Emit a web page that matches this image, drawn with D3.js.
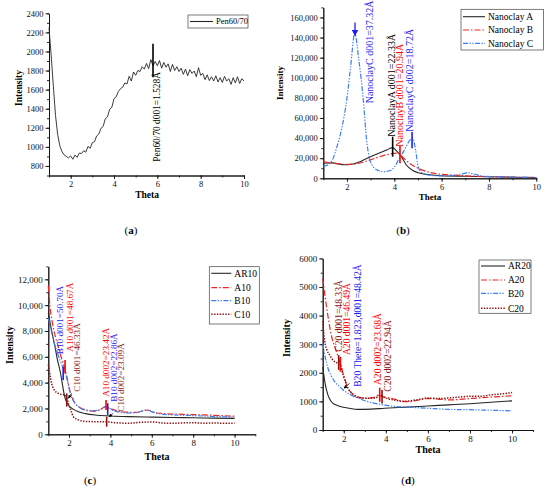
<!DOCTYPE html>
<html>
<head>
<meta charset="utf-8">
<script src="https://cdn.jsdelivr.net/npm/d3@7"></script>
<style>
  body { margin: 0; background: #fff; }
  svg text { font-family: "Liberation Serif", "Times New Roman", serif; }
</style>
</head>
<body>
<div class="container"></div>
<script>
// ---------- data ----------

// (a) Pen60/70, sampled every 0.1 theta
var penTheta = d3.range(1, 10.05, 0.1);
var pen6070 = [
  2250, 1960, 1640, 1330, 1130, 1010, 950, 915, 900, 885,
  905, 870, 915, 890, 935, 930, 960, 945, 1005, 985,
  1045, 1055, 1115, 1135, 1195, 1215, 1295, 1315, 1395, 1415,
  1505, 1525, 1580, 1610, 1625, 1670, 1660, 1740, 1690, 1785,
  1750, 1800, 1790, 1840, 1815, 1875, 1820, 1915, 1850, 1895,
  1850, 1905, 1825, 1885, 1835, 1870, 1790, 1865, 1800, 1840,
  1790, 1825, 1760, 1815, 1745, 1810, 1770, 1795, 1735, 1830,
  1750, 1770, 1705, 1755, 1695, 1735, 1690, 1745, 1680, 1725,
  1675, 1740, 1690, 1715, 1655, 1725, 1670, 1735, 1665, 1715,
  1690
];

// (b) nanoclays
var nanoATheta = [1, 1.2, 1.4, 1.6, 1.9, 2.2, 2.6, 3.0, 3.4, 3.7, 3.93, 4.1, 4.3, 4.5, 4.8, 5.1, 5.5, 6, 7, 8, 9, 10];
var nanoA = [15000, 15200, 15300, 14500, 13500, 14000, 17000, 21500, 25500, 28500, 30500, 27000, 21500, 13500, 7500, 5000, 3500, 2600, 2000, 1500, 1100, 800];
var nanoBTheta = [1, 1.3, 1.6, 2.0, 2.4, 2.8, 3.2, 3.6, 3.9, 4.15, 4.4, 4.7, 5.0, 5.4, 5.8, 6.3, 7, 8, 9, 10];
var nanoB = [16500, 15500, 14500, 13800, 14500, 17000, 20000, 23000, 24500, 25000, 20000, 14000, 10000, 6500, 4500, 3500, 2500, 1600, 1100, 800];
var nanoCTheta = [1, 1.2, 1.4, 1.57, 1.8, 1.99, 2.15, 2.33, 2.5, 2.69, 2.83, 2.95, 3.11, 3.3, 3.53, 3.8, 4.0, 4.17, 4.4, 4.66,
  4.78, 4.9, 5.01, 5.15, 5.4, 5.8, 6.3, 6.8, 7.1, 7.4, 7.8, 8.5, 9.3, 10];
var nanoC = [12000, 13500, 19000, 31000, 52000, 78000, 110000, 144000, 118000, 78000, 38000, 20000, 11500, 8000, 6600, 7500, 11000, 18000, 27000, 38000,
  40000, 28000, 11500, 6000, 3500, 2500, 2500, 4000, 5500, 4000, 2000, 1500, 1000, 800];

// (c) 10 % blends
var ar10Theta = [1, 1.15, 1.32, 1.45, 1.57, 1.65, 1.73, 1.81, 1.97, 2.2, 2.45, 2.8, 3.26, 4, 4.86, 6, 7, 8, 9, 10];
var ar10 = [9400, 8100, 6800, 5700, 4900, 4200, 3400, 2800, 2270, 1950, 1750, 1600, 1490, 1420, 1370, 1330, 1300, 1280, 1250, 1230];
var a10Theta = [1, 1.08, 1.2, 1.35, 1.48, 1.6, 1.72, 1.81, 1.89, 1.97, 2.05, 2.17, 2.29, 2.5, 2.77, 3.26, 3.55, 3.76, 3.9, 4.06,
  4.4, 4.7, 5.2, 5.67, 5.8, 6.1, 6.6, 7.5, 8.5, 9.3, 10];
var a10 = [11500, 9900, 8600, 7500, 6800, 6100, 5500, 5000, 4500, 3900, 3300, 2800, 2400, 2100, 1880, 1780, 1950, 2150, 2050, 1950,
  1800, 1720, 1700, 1850, 1880, 1700, 1600, 1550, 1500, 1450, 1400];
var b10Theta = [1, 1.1, 1.25, 1.4, 1.55, 1.7, 1.8, 1.9, 2.0, 2.1, 2.25, 2.5, 2.8, 3.2, 3.55, 3.8, 3.95, 4.3, 4.8, 5.3,
  5.7, 5.9, 6.3, 7, 8, 9, 10];
var b10 = [9000, 8300, 7300, 6500, 5800, 5200, 4800, 4300, 3600, 3000, 2500, 2100, 1900, 1820, 1950, 2150, 2000, 1750, 1650, 1680,
  1880, 1800, 1600, 1500, 1450, 1380, 1330];
var c10Theta = [1, 1.08, 1.16, 1.3, 1.48, 1.65, 1.81, 1.9, 1.97, 2.1, 2.21, 2.45, 2.77, 3.2, 3.74, 4.2, 4.86, 5.5, 6, 6.5,
  7, 7.5, 8, 8.5, 9, 9.5, 10];
var c10 = [5400, 4600, 3950, 3400, 3170, 3080, 3040, 2800, 2400, 1800, 1360, 1120, 1000, 980, 980, 900, 860, 930, 960, 880,
  850, 880, 900, 860, 880, 850, 870];

// (d) 20 % blends
var ar20Theta = [1, 1.05, 1.1, 1.18, 1.25, 1.35, 1.49, 1.7, 1.88, 2.2, 2.68, 3.3, 3.95, 5, 6, 7, 8, 9, 10];
var ar20 = [2200, 1950, 1690, 1400, 1220, 1060, 930, 860, 815, 770, 720, 730, 760, 800, 840, 880, 920, 970, 1020];
var a20Theta = [1, 1.17, 1.41, 1.65, 1.81, 1.97, 2.2, 2.52, 3.0, 3.4, 3.67, 3.8, 4.26, 4.7, 5.05, 5.5, 6, 6.5, 7, 8, 9, 9.5, 10];
var a20 = [5300, 4370, 3320, 2740, 2390, 1980, 1460, 1220, 1110, 1130, 1220, 1180, 1110, 1020, 990, 1040, 1100, 1080, 1050, 1100, 1150, 1170, 1200];
var b20Theta = [1, 1.1, 1.25, 1.4, 1.57, 1.8, 1.97, 2.36, 2.8, 3.15, 3.95, 4.5, 5, 6, 7, 8, 9, 10];
var b20 = [3030, 2620, 2160, 1900, 1690, 1520, 1400, 1220, 1080, 990, 870, 820, 800, 760, 720, 710, 690, 670];
var c20Theta = [1, 1.1, 1.2, 1.33, 1.45, 1.57, 1.73, 1.85, 1.97, 2.1, 2.2, 2.4, 2.6, 3.15, 3.5, 3.75, 3.9, 4.4, 4.8, 5.5,
  6, 6.5, 7, 7.5, 8, 8.5, 9, 9.5, 10];
var c20 = [3800, 3090, 2800, 2620, 2480, 2390, 2330, 2250, 1920, 1650, 1460, 1280, 1160, 1110, 1120, 1220, 1150, 1050, 1000, 1060,
  1120, 1100, 1120, 1150, 1180, 1180, 1230, 1260, 1310];

// tick values
var yTicksA = d3.range(800, 2401, 200);
var yTicksB = d3.range(0, 160001, 20000);
var yTicksC = d3.range(0, 12001, 2000);
var yTicksD = d3.range(0, 6001, 1000);
var xTicks = [2, 4, 6, 8, 10];

// annotations: text labels (theta, intensity at text start), marker ticks, small arrows
var notesA = [{ label: "Pen60/70 d001=1.528Å", theta: 5.97, v: 845, s: "k" }];
var marksA = [{ theta: 5.8, v0: 1730, v1: 2080, s: "k" }];

var notesB = [
  { label: "NanoclayC d001=37.32Å", theta: 2.94, v: 74600, s: "b" },
  { label: "NanoclayA d001=22.33Å", theta: 3.89, v: 41400, s: "k" },
  { label: "NanoclayB d001=20.94Å", theta: 4.2, v: 31400, s: "r" },
  { label: "NanoclayC d002=18.72Å", theta: 4.63, v: 46400, s: "b" }
];
var marksB = [
  { theta: 3.93, v0: 21500, v1: 41400, s: "k" },
  { theta: 4.24, v0: 14900, v1: 32400, s: "r" },
  { theta: 4.75, v0: 30000, v1: 46000, s: "b" }
];
var arrowsB = [{ t0: 2.34, v0: 155000, t1: 2.34, v1: 142000, s: "b" }];

var notesC = [
  { label: "B10 d001=50.70Å", theta: 1.57, v: 6200, s: "b" },
  { label: "A10 d001=48.67Å", theta: 2.05, v: 6400, s: "r" },
  { label: "C10 d001=46.33Å", theta: 2.37, v: 3300, s: "m" },
  { label: "A10 d002=23.42Å", theta: 3.79, v: 2900, s: "r" },
  { label: "B10 d002=22.86Å", theta: 4.14, v: 2520, s: "b" },
  { label: "C10 d002=23.09Å", theta: 4.51, v: 1750, s: "m" }
];
var marksC = [
  { theta: 1.72, v0: 4200, v1: 5230, s: "b" },
  { theta: 1.81, v0: 4720, v1: 5750, s: "r" },
  { theta: 1.89, v0: 2140, v1: 3170, s: "m" },
  { theta: 3.79, v0: 1880, v1: 2650, s: "r" },
  { theta: 3.87, v0: 1500, v1: 2400, s: "b" },
  { theta: 3.82, v0: 590, v1: 1360, s: "m" }
];
var arrowsC = [
  { t0: 2.13, v0: 3170, t1: 1.97, v1: 2790, s: "k" },
  { t0: 4.14, v0: 1630, t1: 3.93, v1: 1360, s: "k" }
];

var notesD = [
  { label: "C20 d001=48.33Å", theta: 1.76, v: 2740, s: "m" },
  { label: "A20 d001=46.49Å", theta: 2.12, v: 2620, s: "r" },
  { label: "B20 Thete=1.823,d001=48.42Å", theta: 2.64, v: 1510, s: "b" },
  { label: "A20 d002=23.68Å", theta: 3.6, v: 1570, s: "r" },
  { label: "C20 d002=22.94Å", theta: 4.1, v: 1340, s: "m" }
];
var marksD = [
  { theta: 1.76, v0: 2100, v1: 2620, s: "m" },
  { theta: 1.84, v0: 2040, v1: 2560, s: "r" },
  { theta: 3.71, v0: 990, v1: 1480, s: "r" },
  { theta: 3.82, v0: 930, v1: 1400, s: "m" }
];
var arrowsD = [{ t0: 2.28, v0: 1630, t1: 2.01, v1: 1460, s: "k" }];

// ---------- styles ----------
var lineStyle = {
  k: { color: "#262626", dash: null, width: 1.1 },
  r: { color: "#f02424", dash: "6,2,1.5,2", width: 1.2 },
  b: { color: "#3a7ff0", dash: "5,1.5,1.3,1.5,1.3,1.5", width: 1.2 },
  m: { color: "#8e1010", dash: "1.4,1.4", width: 1.5 }
};
var textColor = { k: "#000", r: "#ff0000", b: "#1c1cf5", m: "#8b1515" };

var svg = d3.select(".container").append("svg")
  .attr("width", 550)
  .attr("height", 498);

svg.append("defs").append("marker")
  .attr("id", "head")
  .attr("viewBox", "0 0 10 10")
  .attr("refX", 9).attr("refY", 5)
  .attr("markerWidth", 5).attr("markerHeight", 5)
  .attr("orient", "auto-start-reverse")
  .append("path")
  .attr("d", "M0,0 L10,5 L0,10 z")
  .attr("fill", "context-stroke");

function panel(cfg) {
  var x = d3.scaleLinear().domain(cfg.xDomain).range(cfg.xRange);
  var y = d3.scaleLinear().domain(cfg.yDomain).range(cfg.yRange);
  var g = svg.append("g");
  var y0 = cfg.yRange[0];
  var x0 = cfg.xRange[0];

  // minor ticks
  var xMinor = d3.range(cfg.xDomain[0], cfg.xDomain[1] + 0.01, 1);
  g.append("g").attr("transform", `translate(0,${y0})`)
    .call(d3.axisBottom(x).tickValues(xMinor).tickSize(2).tickFormat("").tickSizeOuter(0));
  g.append("g").attr("transform", `translate(${x0},0)`)
    .call(d3.axisLeft(y).tickValues(cfg.yMinor).tickSize(2).tickFormat("").tickSizeOuter(0));

  // major axes
  var xAxis = g.append("g").attr("transform", `translate(0,${y0})`)
    .call(d3.axisBottom(x).tickValues(xTicks).tickSize(3.5).tickPadding(2).tickSizeOuter(0));
  var yAxis = g.append("g").attr("transform", `translate(${x0},0)`)
    .call(d3.axisLeft(y).tickValues(cfg.yTicks).tickSize(3.5).tickPadding(2)
      .tickFormat(cfg.fmt).tickSizeOuter(0));
  g.selectAll(".domain, .tick line").attr("stroke", "#111").attr("stroke-width", 0.9);
  xAxis.selectAll("text").attr("font-size", cfg.tickFont).attr("fill", "#111")
    .style("font-family", "Liberation Serif");
  yAxis.selectAll("text").attr("font-size", cfg.tickFont).attr("fill", "#111")
    .style("font-family", "Liberation Serif");

  // titles
  g.append("text")
    .attr("transform", `translate(${cfg.yTitle[0]},${cfg.yTitle[1]}) rotate(-90)`)
    .attr("text-anchor", "middle")
    .attr("font-weight", "bold")
    .attr("font-size", cfg.titleFont)
    .text("Intensity");
  g.append("text")
    .attr("x", cfg.xTitle[0]).attr("y", cfg.xTitle[1])
    .attr("text-anchor", "middle")
    .attr("font-weight", "bold")
    .attr("font-size", cfg.titleFont)
    .text("Theta");

  // series
  cfg.series.forEach(function (s) {
    var st = lineStyle[s.style];
    var line = d3.line()
      .x(function (d) { return x(d[0]); })
      .y(function (d) { return y(d[1]); })
      .curve(s.curve || d3.curveMonotoneX);
    g.append("path")
      .datum(d3.zip(s.theta, s.values))
      .attr("fill", "none")
      .attr("stroke", st.color)
      .attr("stroke-width", s.width || st.width)
      .attr("stroke-dasharray", st.dash)
      .attr("stroke-linejoin", "round")
      .attr("d", line);
  });

  // annotation marks
  g.selectAll(null).data(cfg.marks).enter().append("line")
    .attr("x1", function (d) { return x(d.theta); })
    .attr("x2", function (d) { return x(d.theta); })
    .attr("y1", function (d) { return y(d.v0); })
    .attr("y2", function (d) { return y(d.v1); })
    .attr("stroke", function (d) { return textColor[d.s]; })
    .attr("stroke-width", 1.6);

  g.selectAll(null).data(cfg.arrows || []).enter().append("line")
    .attr("x1", function (d) { return x(d.t0); })
    .attr("y1", function (d) { return y(d.v0); })
    .attr("x2", function (d) { return x(d.t1); })
    .attr("y2", function (d) { return y(d.v1); })
    .attr("stroke", function (d) { return textColor[d.s]; })
    .attr("stroke-width", function (d) { return d.s === "k" ? 0.7 : 1.3; })
    .attr("marker-end", "url(#head)");

  g.selectAll(null).data(cfg.notes).enter().append("text")
    .attr("transform", function (d) {
      return `translate(${x(d.theta)},${y(d.v)}) rotate(-90)`;
    })
    .attr("dy", "0.35em")
    .attr("font-size", cfg.noteFont)
    .attr("fill", function (d) { return textColor[d.s]; })
    .text(function (d) { return d.label; });

  // legend
  var L = cfg.legend;
  g.append("rect")
    .attr("x", L.x).attr("y", L.y)
    .attr("width", L.w).attr("height", L.h)
    .attr("fill", "#fff")
    .attr("stroke", "#444")
    .attr("stroke-width", 0.7);
  cfg.series.forEach(function (s, i) {
    var st = lineStyle[s.style];
    var ry = L.rows[i];
    g.append("line")
      .attr("x1", L.x + 2).attr("x2", L.x + L.sample)
      .attr("y1", ry).attr("y2", ry)
      .attr("stroke", st.color)
      .attr("stroke-width", st.width)
      .attr("stroke-dasharray", st.dash);
    g.append("text")
      .attr("x", L.x + L.sample + 3).attr("y", ry)
      .attr("dy", "0.35em")
      .attr("font-size", cfg.legendFont)
      .text(s.name);
  });

  // panel label
  var lab = g.append("text")
    .attr("x", cfg.label[0]).attr("y", cfg.label[1])
    .attr("text-anchor", "middle")
    .attr("font-size", 11);
  lab.append("tspan").text("(");
  lab.append("tspan").attr("font-weight", "bold").text(cfg.letter);
  lab.append("tspan").text(")");
}

panel({
  xDomain: [1, 10], xRange: [49, 244],
  yDomain: [700, 2400], yRange: [175.5, 13.3],
  yTicks: yTicksA, yMinor: d3.range(700, 2401, 100), fmt: d3.format("d"),
  tickFont: 8.5, titleFont: 9.5, legendFont: 8.5, noteFont: 9.4,
  yTitle: [22, 88], xTitle: [147, 198],
  series: [{ name: "Pen60/70", theta: penTheta, values: pen6070, style: "k", curve: d3.curveLinear, width: 0.9 }],
  notes: notesA, marks: marksA,
  legend: { x: 188, y: 15, w: 60, h: 13, sample: 25, rows: [21.5] },
  label: [131, 234], letter: "a"
});

panel({
  xDomain: [1, 10], xRange: [323.3, 536.3],
  yDomain: [0, 170000], yRange: [178.3, 7.4],
  yTicks: yTicksB, yMinor: d3.range(0, 170001, 10000), fmt: d3.format(","),
  tickFont: 8.5, titleFont: 9, legendFont: 9.5, noteFont: 10,
  yTitle: [283, 83], xTitle: [430, 200],
  series: [
    { name: "Nanoclay A", theta: nanoATheta, values: nanoA, style: "k" },
    { name: "Nanoclay B", theta: nanoBTheta, values: nanoB, style: "r" },
    { name: "Nanoclay C", theta: nanoCTheta, values: nanoC, style: "b" }
  ],
  notes: notesB, marks: marksB, arrows: arrowsB,
  legend: { x: 461, y: 9.3, w: 82.5, h: 40.7, sample: 24, rows: [16.7, 30, 43.3] },
  label: [403, 234], letter: "b"
});

panel({
  xDomain: [1, 11], xRange: [48.3, 255.3],
  yDomain: [0, 13000], yRange: [434.3, 266.4],
  yTicks: yTicksC, yMinor: d3.range(0, 13001, 1000), fmt: d3.format(","),
  tickFont: 9, titleFont: 10, legendFont: 9.5, noteFont: 9.2,
  yTitle: [13, 345], xTitle: [157, 460],
  series: [
    { name: "AR10", theta: ar10Theta, values: ar10, style: "k" },
    { name: "A10", theta: a10Theta, values: a10, style: "r" },
    { name: "B10", theta: b10Theta, values: b10, style: "b" },
    { name: "C10", theta: c10Theta, values: c10, style: "m" }
  ],
  notes: notesC, marks: marksC, arrows: arrowsC,
  legend: { x: 209.3, y: 266.7, w: 50, h: 57.3, sample: 22, rows: [273.3, 287.7, 300.7, 314.3] },
  label: [90, 484], letter: "c"
});

panel({
  xDomain: [1, 11], xRange: [322.7, 533.1],
  yDomain: [0, 6000], yRange: [430, 258.4],
  yTicks: yTicksD, yMinor: d3.range(0, 6001, 500), fmt: d3.format("d"),
  tickFont: 9, titleFont: 10, legendFont: 9.5, noteFont: 9.6,
  yTitle: [290, 338], xTitle: [428, 453],
  series: [
    { name: "AR20", theta: ar20Theta, values: ar20, style: "k" },
    { name: "A20", theta: a20Theta, values: a20, style: "r" },
    { name: "B20", theta: b20Theta, values: b20, style: "b" },
    { name: "C20", theta: c20Theta, values: c20, style: "m" }
  ],
  notes: notesD, marks: marksD, arrows: arrowsD,
  legend: { x: 479, y: 260, w: 52, h: 53.3, sample: 26, rows: [266, 280, 293.3, 308.3] },
  label: [408, 484], letter: "d"
});
</script>
</body>
</html>
